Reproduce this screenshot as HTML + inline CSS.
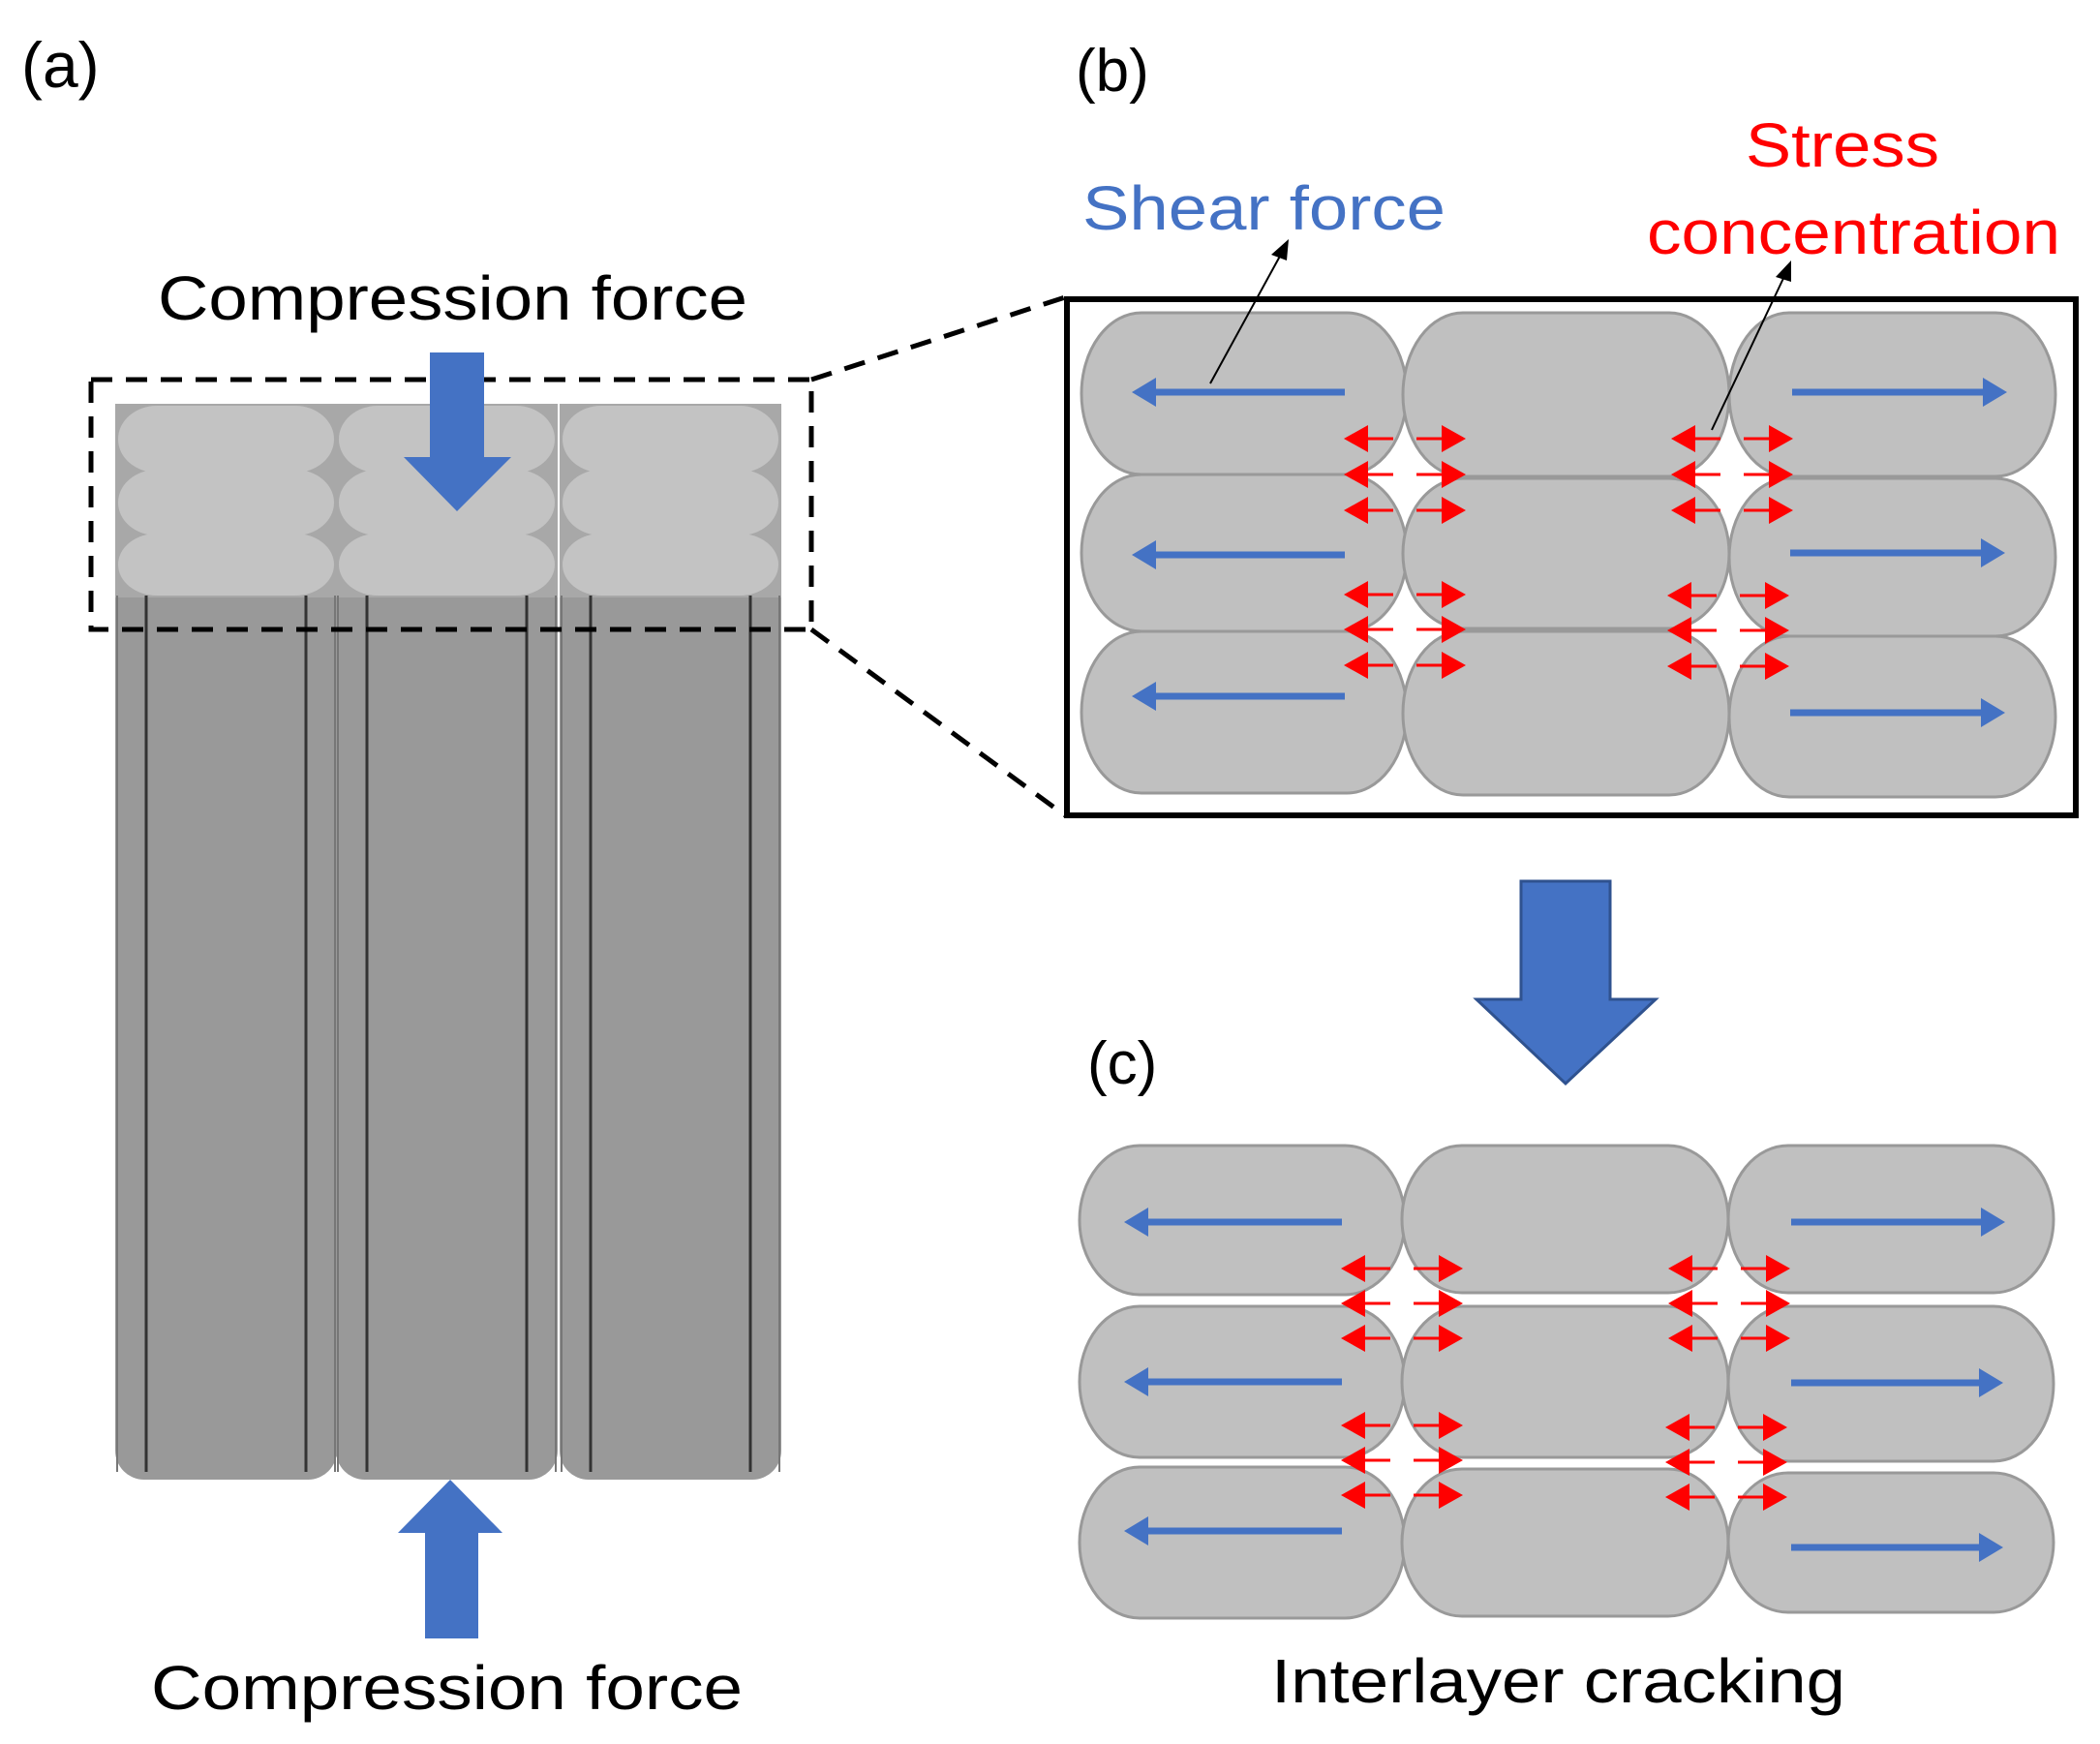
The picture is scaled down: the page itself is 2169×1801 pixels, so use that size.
<!DOCTYPE html>
<html><head><meta charset="utf-8"><style>
html,body{margin:0;padding:0;background:#fff;}
svg{display:block;}
text{font-family:"Liberation Sans",sans-serif;}
</style></head><body>
<svg id="s" width="2169" height="1801" viewBox="0 0 2169 1801" xmlns="http://www.w3.org/2000/svg">
<!-- (a) -->
<text x="22" y="90" font-size="66">(a)</text>
<text x="163" y="330" font-size="64" textLength="609" lengthAdjust="spacingAndGlyphs">Compression  force</text>
<g id="cols"></g>
<rect x="94" y="392" width="744" height="258" fill="none" stroke="#000" stroke-width="5" stroke-dasharray="22,14"/>
<polygon points="444,364 500,364 500,472 528,472 472,528 417,472 444,472" fill="#4472C4"/>
<polygon points="465,1528 519,1583 494,1583 494,1692 439,1692 439,1583 411,1583" fill="#4472C4"/>
<text x="156" y="1765" font-size="64" textLength="611" lengthAdjust="spacingAndGlyphs">Compression  force</text>
<line x1="838" y1="392" x2="1100" y2="307" stroke="#000" stroke-width="5" stroke-dasharray="22,14"/>
<line x1="838" y1="650" x2="1100" y2="842" stroke="#000" stroke-width="5" stroke-dasharray="22,14"/>
<g transform="translate(-7,-3)">
<text x="1118" y="97" font-size="62">(b)</text>
<text x="1125" y="240" font-size="64" fill="#4472C4" textLength="375" lengthAdjust="spacingAndGlyphs">Shear  force</text>
<text x="1810" y="175" font-size="64" fill="#FF0000" textLength="200" lengthAdjust="spacingAndGlyphs">Stress</text>
<text x="1708" y="265" font-size="64" fill="#FF0000" textLength="427" lengthAdjust="spacingAndGlyphs">concentration</text>
<rect x="1109" y="312" width="1042" height="533" fill="none" stroke="#000" stroke-width="6"/>
<g id="pb"></g>
<polygon points="1578,913 1670,913 1670,1035 1717,1035 1624,1122 1532,1035 1578,1035" fill="#4472C4" stroke="#2F528F" stroke-width="3"/>
<text x="1130" y="1122" font-size="62">(c)</text>
<g id="pc"></g>
<text x="1320" y="1761" font-size="64" textLength="593" lengthAdjust="spacingAndGlyphs">Interlayer  cracking</text>
</g>
</svg>
<script>
const NS="http://www.w3.org/2000/svg";
function el(p,t,a){const e=document.createElementNS(NS,t);for(const k in a)e.setAttribute(k,a[k]);p.appendChild(e);return e;}
const cols=document.getElementById('cols');
const cx=[119,347,578];
for(let i=0;i<3;i++){
 const x=cx[i],w=229;
 el(cols,'rect',{x:x,y:430,width:w,height:1098,rx:30,ry:30,fill:'#999999'});
 el(cols,'rect',{x:x,y:417,width:w,height:200,fill:'#a8a8a8'});
 [x+2,x+32,x+w-32,x+w-2].forEach((lx,j)=>el(cols,'line',{x1:lx,y1:615,x2:lx,y2:1520,stroke:(j==1||j==2)?'#333':'#777','stroke-width':(j==1||j==2)?3:2}));
 const rows=[[419,488],[485,553],[551,615]];
 rows.forEach(r=>el(cols,'rect',{x:x+3,y:r[0],width:w-6,height:r[1]-r[0],rx:40,ry:(r[1]-r[0])/2,fill:'#c3c3c3'}));
}
function panel(g,rows,colsX,blue,red){
 rows.forEach((r,ri)=>colsX.forEach((c,ci)=>{
  const rr=r[ci];
  el(g,'rect',{x:c[0],y:rr[0],width:c[1]-c[0],height:rr[1]-rr[0],rx:62,ry:90,fill:'#c0c0c0',stroke:'#999','stroke-width':3});
 }));
 blue.forEach(b=>{
  const [x1,x2,y]=b,d=Math.sign(x2-x1);
  el(g,'line',{x1:x1,y1:y,x2:x2-d*22,y2:y,stroke:'#4472C4','stroke-width':7});
  el(g,'polygon',{points:`${x2},${y} ${x2-d*25},${y-15} ${x2-d*25},${y+15}`,fill:'#4472C4'});
 });
 red.forEach(rd=>{
  const [c,y]=rd;
  el(g,'line',{x1:c-42,y1:y,x2:c-12,y2:y,stroke:'#f00','stroke-width':3});
  el(g,'line',{x1:c+12,y1:y,x2:c+42,y2:y,stroke:'#f00','stroke-width':3});
  el(g,'polygon',{points:`${c-63},${y} ${c-38},${y-14} ${c-38},${y+14}`,fill:'#f00'});
  el(g,'polygon',{points:`${c+63},${y} ${c+38},${y-14} ${c+38},${y+14}`,fill:'#f00'});
 });
}
const pb=document.getElementById('pb');
panel(pb,[[[326,493],[326,495],[326,495]],[[493,655],[497,652],[497,660]],[[655,822],[655,824],[660,826]]],
 [[1124,1460],[1456,1793],[1793,2130]],
 [[1396,1176,408],[1396,1176,576],[1396,1176,722],[1858,2080,408],[1856,2078,574],[1856,2078,739]],
 [[1458,456],[1458,493],[1458,530],[1458,617],[1458,653],[1458,690],[1796,456],[1796,493],[1796,530],[1792,618],[1792,654],[1792,691]]);
el(pb,'line',{x1:1257,y1:399,x2:1332,y2:262,stroke:'#000','stroke-width':2});
el(pb,'polygon',{points:'1338,250 1320,266 1336,272',fill:'#000'});
el(pb,'line',{x1:1775,y1:447,x2:1852,y2:284,stroke:'#000','stroke-width':2});
el(pb,'polygon',{points:'1857,272 1841,289 1857,294',fill:'#000'});
const pc=document.getElementById('pc');
panel(pc,[[[1186,1340],[1186,1338],[1186,1338]],[[1352,1508],[1352,1508],[1352,1512]],[[1518,1674],[1520,1672],[1524,1668]]],
 [[1122,1458],[1455,1792],[1792,2128]],
 [[1393,1168,1265],[1393,1168,1430],[1393,1168,1584],[1857,2078,1265],[1857,2076,1431],[1857,2076,1601]],
 [[1455,1313],[1455,1349],[1455,1385],[1455,1475],[1455,1511],[1455,1547],[1793,1313],[1793,1349],[1793,1385],[1790,1477],[1790,1513],[1790,1549]]);
</script>
</body></html>
